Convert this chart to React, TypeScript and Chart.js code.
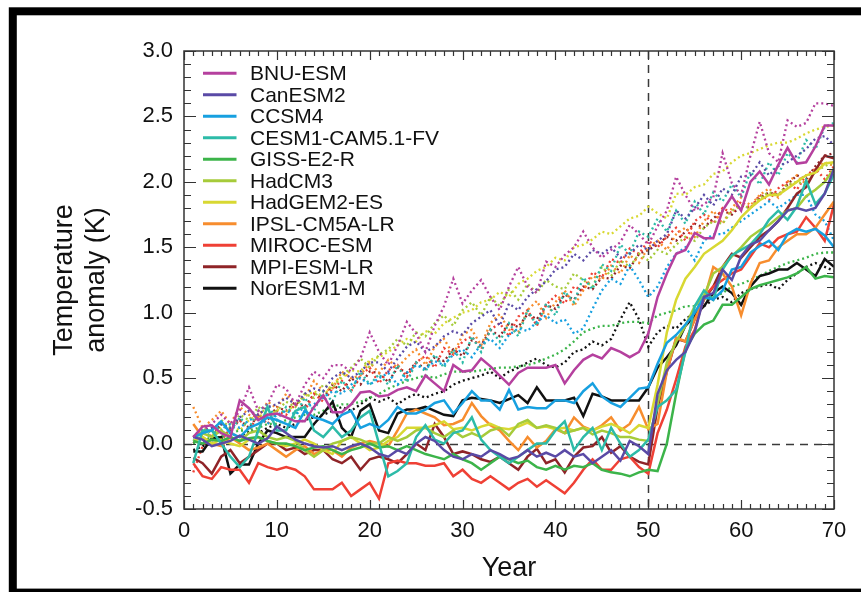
import React, { useEffect, useRef } from "react";
import { Chart, registerables } from "chart.js";

Chart.register(...registerables);

// ---------- data ----------
const YEARS = Array.from({ length: 70 }, (_, i) => i + 1);
const X_TICKS_STEP = 10;
const Y_TICKS_STEP = 0.5;
const DIVIDER_YEAR = 50;

const MODELS = [
  "BNU-ESM", "CanESM2", "CCSM4", "CESM1-CAM5.1-FV", "GISS-E2-R", "HadCM3",
  "HadGEM2-ES", "IPSL-CM5A-LR", "MIROC-ESM", "MPI-ESM-LR", "NorESM1-M",
];
const COLORS = [
  "#b5409e", "#5a4aa6", "#17a0e0", "#2dbba8", "#3cb44a", "#a6cb3a",
  "#d8d832", "#f78d2e", "#ef4035", "#8f2428", "#111111",
];

// solid lines
const BNU_SOLID = [0.05,0.13,0.14,0.08,0.05,0.33,0.27,0.18,0.22,0.23, 0.20,0.17,0.17,0.28,0.37,0.24,0.24,0.30,0.39,0.40, 0.36,0.37,0.41,0.43,0.40,0.52,0.46,0.40,0.60,0.55, 0.56,0.65,0.59,0.52,0.45,0.54,0.58,0.58,0.58,0.60, 0.46,0.56,0.64,0.68,0.65,0.73,0.70,0.66,0.70,0.84, 1.12,1.30,1.45,1.48,1.61,1.57,1.57,1.78,1.89,1.78, 2.00,2.08,1.98,2.13,2.26,2.14,2.15,2.27,2.43,2.43];
const CAN_SOLID = [0.05,0.03,-0.02,0.00,0.02,0.06,0.03,0.00,0.04,0.13, 0.08,0.03,0.00,-0.02,-0.03,-0.02,-0.05,-0.02,0.00,-0.03, -0.08,-0.10,-0.05,-0.08,0.00,0.05,0.02,-0.05,-0.10,-0.12, -0.08,-0.10,-0.05,-0.08,-0.12,-0.10,-0.05,-0.10,-0.07,-0.10, -0.05,-0.10,-0.08,-0.15,-0.10,-0.05,-0.13,0.02,-0.02,-0.08, 0.38,0.56,0.64,0.70,0.85,1.12,1.15,1.33,1.25,1.43, 1.52,1.55,1.63,1.70,1.78,1.80,1.78,1.80,1.91,2.10];
const CCSM_SOLID = [0.05,0.08,0.10,0.17,0.08,0.05,0.12,0.15,0.20,0.18, 0.15,0.12,0.25,0.20,0.18,0.15,0.22,0.25,0.12,0.15, 0.12,0.18,0.28,0.23,0.23,0.26,0.31,0.33,0.23,0.31, 0.40,0.33,0.33,0.26,0.41,0.26,0.28,0.27,0.27,0.33, 0.33,0.31,0.40,0.46,0.36,0.31,0.28,0.35,0.42,0.43, 0.61,0.77,0.83,0.91,1.00,1.12,1.10,1.17,1.33,1.35, 1.46,1.51,1.55,1.48,1.60,1.64,1.62,1.64,1.59,1.50];
const CESM_SOLID = [-0.15,0.10,0.10,0.00,-0.10,-0.18,-0.10,0.10,0.28,0.10, 0.10,0.25,0.28,0.10,0.05,0.13,0.05,0.10,0.20,0.25, 0.00,-0.25,-0.21,-0.15,0.05,0.14,0.03,0.00,0.08,0.10, 0.20,0.03,-0.05,-0.10,-0.15,-0.10,-0.05,0.00,0.00,0.10, 0.17,-0.05,0.05,0.12,-0.05,0.12,0.00,-0.10,-0.05,0.03, 0.28,0.33,0.41,0.70,1.05,1.17,1.10,1.33,1.44,1.48, 1.52,1.60,1.71,1.78,1.71,1.81,2.01,1.83,1.91,2.06];
const GISS_SOLID = [0.02,0.00,0.03,0.02,0.05,0.02,0.04,0.05,0.02,0.00, 0.00,-0.02,-0.05,-0.03,-0.02,-0.05,-0.08,-0.05,-0.03,0.00, -0.03,-0.02,-0.05,-0.02,-0.05,-0.08,-0.10,-0.12,-0.08,-0.12, -0.15,-0.20,-0.15,-0.10,-0.12,-0.15,-0.13,-0.18,-0.20,-0.17, -0.20,-0.17,-0.18,-0.15,-0.20,-0.22,-0.23,-0.25,-0.22,-0.20, -0.21,0.00,0.38,0.72,0.84,0.91,0.94,1.06,1.06,1.12, 1.18,1.21,1.23,1.25,1.27,1.30,1.35,1.26,1.28,1.27];
const HADCM3_SOLID = [0.05,0.08,0.05,0.10,0.05,0.02,0.08,0.10,0.05,0.03, 0.05,0.02,-0.05,-0.10,-0.05,0.00,0.02,0.05,0.03,0.00, 0.00,0.05,0.02,0.05,0.10,0.12,0.08,0.05,0.10,0.05, 0.08,0.05,0.10,0.12,0.06,0.15,0.18,0.12,0.14,0.12, 0.08,0.10,0.12,0.07,0.10,0.08,0.05,0.05,0.03,0.02, 0.30,0.62,0.78,0.90,1.05,1.13,1.30,1.35,1.43,1.50, 1.58,1.63,1.67,1.73,1.78,1.80,1.89,1.94,2.00,2.10];
const HADGEM_SOLID = [0.02,0.05,0.00,0.03,0.00,-0.02,0.03,0.05,0.02,0.00, -0.02,0.00,0.03,0.00,-0.05,-0.08,0.02,0.05,0.00,-0.05, -0.03,0.02,0.05,0.12,0.12,0.12,0.14,0.17,0.11,0.12, 0.10,0.13,0.15,0.12,0.11,0.13,0.16,0.12,0.13,0.11, 0.12,0.10,0.12,0.10,0.13,0.15,0.12,0.08,0.14,0.12, 0.45,0.85,1.10,1.26,1.35,1.45,1.50,1.55,1.63,1.73, 1.80,1.86,1.90,1.90,1.95,2.00,2.05,2.07,2.14,2.15];
const IPSL_SOLID = [0.15,0.05,0.00,-0.02,0.05,0.00,-0.05,-0.03,0.00,-0.05, -0.10,-0.05,-0.02,-0.08,-0.05,-0.05,-0.10,-0.03,0.00,0.02, 0.00,-0.02,0.10,0.23,0.26,0.23,0.20,0.14,0.15,0.18, 0.31,0.21,0.14,0.10,0.02,-0.05,0.05,-0.03,0.02,0.11, 0.08,0.20,0.13,0.10,0.14,0.20,0.10,0.15,0.28,0.11, 0.15,0.55,0.81,0.78,0.95,1.10,1.35,1.30,1.20,0.98, 1.22,1.38,1.40,1.50,1.55,1.60,1.60,1.65,1.75,1.85];
const MIROC_SOLID = [-0.15,-0.25,-0.27,-0.18,-0.20,-0.20,-0.30,-0.15,-0.18,-0.20, -0.18,-0.20,-0.25,-0.35,-0.35,-0.35,-0.30,-0.40,-0.35,-0.30, -0.42,-0.15,-0.13,-0.15,-0.15,-0.17,-0.17,-0.15,-0.25,-0.20, -0.27,-0.30,-0.25,-0.30,-0.35,-0.30,-0.27,-0.33,-0.28,-0.33, -0.38,-0.30,-0.20,-0.12,-0.20,-0.20,-0.12,-0.10,-0.18,-0.23, 0.08,0.26,0.49,0.74,0.87,1.12,1.20,1.25,1.30,1.33, 1.43,1.53,1.50,1.57,1.60,1.62,1.73,1.65,1.55,1.83];
const MPI_SOLID = [-0.11,-0.15,-0.23,-0.10,-0.05,-0.15,-0.10,-0.05,0.00,0.00, -0.05,-0.03,-0.08,-0.05,-0.05,-0.12,-0.15,-0.10,-0.20,-0.12, -0.10,-0.12,-0.15,-0.08,0.00,-0.05,0.15,0.05,-0.08,-0.06, -0.08,-0.12,-0.14,-0.10,-0.15,-0.20,-0.10,-0.04,-0.15,-0.12, -0.22,-0.10,-0.03,-0.02,0.05,-0.07,-0.02,-0.10,-0.14,-0.16, 0.28,0.55,0.80,0.78,0.95,1.10,1.20,1.35,1.45,1.42, 1.50,1.58,1.63,1.70,1.80,1.91,1.96,2.09,2.20,2.18];
const NOR_SOLID = [-0.06,-0.06,0.04,0.05,-0.23,-0.16,-0.16,0.00,0.10,0.08, 0.05,0.05,0.05,0.15,0.23,0.32,0.12,0.05,0.25,0.30, 0.10,0.08,0.23,0.26,0.26,0.28,0.25,0.22,0.21,0.33, 0.35,0.34,0.33,0.31,0.34,0.37,0.31,0.43,0.33,0.33, 0.33,0.35,0.21,0.38,0.36,0.33,0.33,0.33,0.33,0.43, 0.58,0.66,0.75,0.90,0.98,1.05,1.15,1.20,1.15,1.06, 1.20,1.28,1.30,1.33,1.33,1.38,1.33,1.28,1.41,1.35];

// dotted lines
const BNU_DOTTED = [0.05,0.10,0.15,0.22,0.15,0.25,0.43,0.25,0.30,0.45, 0.42,0.30,0.45,0.55,0.50,0.60,0.60,0.55,0.65,0.85, 0.70,0.60,0.75,0.93,0.84,0.70,0.90,1.05,1.26,1.07, 1.17,1.25,1.12,1.02,1.20,1.35,1.20,1.15,1.39,1.35, 1.44,1.50,1.62,1.50,1.42,1.48,1.54,1.67,1.60,1.52, 1.66,1.78,2.04,1.90,1.78,1.83,1.88,2.22,1.99,1.90, 2.20,2.46,2.22,2.15,2.47,2.42,2.45,2.60,2.60,2.58];
const CAN_DOTTED = [0.05,0.10,0.12,0.15,0.12,0.20,0.25,0.22,0.28,0.30, 0.35,0.30,0.38,0.42,0.40,0.50,0.55,0.50,0.55,0.62, 0.62,0.55,0.65,0.74,0.78,0.70,0.74,0.82,0.86,0.83, 0.92,0.97,1.02,0.90,1.07,1.02,1.12,1.18,1.24,1.33, 1.35,1.45,1.40,1.48,1.45,1.50,1.42,1.45,1.52,1.48, 1.55,1.60,1.78,1.72,1.80,1.90,1.82,1.95,1.90,2.04, 2.05,2.15,2.05,2.12,2.15,2.20,2.25,2.33,2.35,2.28];
const CCSM_DOTTED = [0.05,0.08,0.12,0.10,0.15,0.12,0.18,0.20,0.15,0.22, 0.25,0.22,0.28,0.30,0.35,0.40,0.38,0.45,0.50,0.45, 0.50,0.54,0.45,0.54,0.60,0.57,0.63,0.60,0.68,0.72, 0.66,0.76,0.80,0.73,0.83,0.88,0.86,0.93,0.98,0.92, 0.95,0.84,0.88,1.03,1.17,1.26,1.22,1.36,1.25,1.12, 1.20,1.35,1.45,1.50,1.40,1.55,1.60,1.60,1.65,1.70, 1.75,1.80,1.85,1.80,1.85,1.90,1.90,1.75,1.70,1.55];
const CESM_DOTTED = [0.02,0.10,0.05,0.15,0.08,0.20,0.12,0.25,0.30,0.18, 0.28,0.22,0.35,0.25,0.40,0.32,0.48,0.40,0.55,0.45, 0.53,0.45,0.60,0.47,0.62,0.55,0.68,0.58,0.72,0.62, 0.82,0.70,0.87,0.78,0.92,0.82,1.02,0.90,1.07,0.98, 1.16,1.08,1.27,1.18,1.37,1.32,1.52,1.45,1.62,1.58, 1.72,1.62,1.78,1.68,1.85,1.75,1.92,1.85,1.98,1.88, 2.08,1.98,2.15,2.05,2.22,2.15,2.32,2.25,2.42,2.45];
const GISS_DOTTED = [0.00,0.02,0.05,0.05,0.08,0.10,0.10,0.12,0.15,0.15, 0.18,0.20,0.22,0.22,0.25,0.28,0.30,0.30,0.32,0.35, 0.38,0.42,0.45,0.48,0.50,0.52,0.50,0.53,0.55,0.55, 0.55,0.56,0.57,0.58,0.58,0.59,0.60,0.62,0.65,0.68, 0.72,0.78,0.85,0.88,0.90,0.90,0.92,0.93,0.93,0.92, 0.98,1.00,1.02,1.05,1.05,1.08,1.12,1.15,1.20,1.22, 1.25,1.28,1.32,1.35,1.38,1.40,1.42,1.45,1.46,1.46];
const HADCM3_DOTTED = [0.05,0.12,0.08,0.18,0.12,0.22,0.18,0.28,0.22,0.25, 0.32,0.28,0.38,0.35,0.45,0.42,0.52,0.58,0.65,0.58, 0.68,0.72,0.80,0.75,0.85,0.82,0.92,0.98,0.90,1.02, 1.08,0.98,1.12,1.05,1.18,1.10,1.22,1.15,1.25,1.20, 1.18,1.30,1.25,1.20,1.35,1.28,1.40,1.35,1.45,1.40, 1.48,1.45,1.52,1.58,1.55,1.65,1.70,1.68,1.78,1.82, 1.80,1.88,1.92,1.90,1.98,2.00,1.98,2.08,2.12,2.15];
const HADGEM_DOTTED = [0.05,0.08,0.06,0.12,0.15,0.10,0.18,0.22,0.20,0.26, 0.24,0.30,0.36,0.40,0.36,0.46,0.50,0.56,0.55,0.64, 0.66,0.70,0.75,0.80,0.78,0.86,0.84,0.92,0.96,1.00, 1.02,1.08,1.10,1.16,1.12,1.22,1.26,1.32,1.35,1.42, 1.40,1.50,1.52,1.56,1.62,1.60,1.66,1.72,1.74,1.81, 1.76,1.72,1.91,1.90,1.96,1.98,2.06,2.08,2.15,2.20, 2.22,2.25,2.28,2.30,2.30,2.33,2.37,2.40,2.42,2.43];
const IPSL_DOTTED = [0.28,0.12,0.18,0.25,0.15,0.28,0.22,0.20,0.32,0.27, 0.38,0.30,0.35,0.48,0.40,0.42,0.55,0.50,0.52,0.62, 0.54,0.64,0.58,0.66,0.72,0.60,0.74,0.80,0.68,0.83, 0.87,0.75,0.92,0.99,0.87,0.85,1.02,1.09,0.96,1.08, 1.17,1.05,1.17,1.28,1.25,1.36,1.30,1.44,1.38,1.50, 1.55,1.48,1.60,1.65,1.58,1.70,1.78,1.68,1.80,1.88, 1.82,1.90,1.95,1.88,2.00,2.05,1.98,2.10,2.15,2.12];
const MIROC_DOTTED = [-0.22,-0.02,0.08,0.02,0.12,0.18,0.10,0.22,0.15,0.25, 0.22,0.30,0.25,0.38,0.32,0.42,0.48,0.40,0.52,0.58, 0.46,0.56,0.60,0.51,0.62,0.67,0.58,0.73,0.68,0.78, 0.82,0.72,0.87,0.92,0.82,0.97,1.02,0.90,1.06,1.13, 1.07,1.20,1.17,1.31,1.27,1.41,1.38,1.49,1.45,1.55, 1.50,1.58,1.65,1.55,1.70,1.75,1.68,1.80,1.76,1.85, 1.80,1.90,1.86,1.95,2.00,1.94,2.05,2.10,2.02,2.12];
const MPI_DOTTED = [0.00,0.08,0.05,0.15,0.10,0.18,0.12,0.22,0.18,0.28, 0.25,0.32,0.28,0.38,0.35,0.45,0.40,0.50,0.45,0.55, 0.54,0.47,0.58,0.54,0.62,0.57,0.66,0.63,0.72,0.67, 0.79,0.75,0.87,0.82,0.92,0.89,0.99,0.95,1.06,1.03, 1.14,1.10,1.20,1.18,1.27,1.26,1.36,1.34,1.45,1.48, 1.52,1.58,1.55,1.62,1.68,1.65,1.72,1.78,1.75,1.82, 1.80,1.88,1.92,1.90,1.98,2.05,2.02,2.12,2.20,2.22];
const NOR_DOTTED = [-0.05,-0.02,0.00,0.05,0.08,0.05,0.10,0.08,0.12,0.15, 0.12,0.15,0.18,0.20,0.22,0.25,0.28,0.25,0.30,0.35, 0.32,0.35,0.30,0.35,0.38,0.35,0.38,0.40,0.45,0.48, 0.50,0.52,0.55,0.50,0.55,0.58,0.62,0.65,0.60,0.58, 0.62,0.70,0.72,0.78,0.75,0.80,0.95,1.08,0.95,0.74, 0.85,0.90,0.88,0.95,1.00,1.05,1.10,1.12,1.08,1.15, 1.18,1.20,1.22,1.18,1.25,1.30,1.35,1.38,1.35,1.32];

const SOLID = [BNU_SOLID, CAN_SOLID, CCSM_SOLID, CESM_SOLID, GISS_SOLID, HADCM3_SOLID, HADGEM_SOLID, IPSL_SOLID, MIROC_SOLID, MPI_SOLID, NOR_SOLID];
const DOTTED = [BNU_DOTTED, CAN_DOTTED, CCSM_DOTTED, CESM_DOTTED, GISS_DOTTED, HADCM3_DOTTED, HADGEM_DOTTED, IPSL_DOTTED, MIROC_DOTTED, MPI_DOTTED, NOR_DOTTED];

const FONT = "'Liberation Sans', Arial, Helvetica, sans-serif";
const TEXT = "#111111";

const toPoints = (vals: number[]) => vals.map((v, i) => ({ x: YEARS[i], y: v }));

const framePlugin = {
  id: "paperFrame",
  beforeDatasetsDraw(chart: any) {
    const { ctx, chartArea: a, scales } = chart;
    const xs = scales.x, ys = scales.y;
    ctx.save();
    ctx.strokeStyle = "#3a3a3a";
    ctx.lineWidth = 1.5;
    ctx.setLineDash([8, 6]);
    const xd = Math.round(xs.getPixelForValue(DIVIDER_YEAR)) + 0.5;
    ctx.beginPath(); ctx.moveTo(xd, a.top); ctx.lineTo(xd, a.bottom); ctx.stroke();
    const y0 = Math.round(ys.getPixelForValue(0)) + 0.5;
    ctx.beginPath(); ctx.moveTo(a.left, y0); ctx.lineTo(a.right, y0); ctx.stroke();
    ctx.restore();
  },
  afterDraw(chart: any) {
    const { ctx, chartArea: a, scales, width, height } = chart;
    const xs = scales.x, ys = scales.y;
    ctx.save();
    // axis box
    ctx.strokeStyle = "#333";
    ctx.lineWidth = 1.5;
    ctx.strokeRect(a.left, a.top, a.right - a.left, a.bottom - a.top);
    // ticks
    ctx.lineWidth = 1.2;
    ctx.beginPath();
    for (let v = 0; v <= 70; v++) {
      const px = Math.round(xs.getPixelForValue(v)) + 0.5;
      const len = v % 10 === 0 ? 9 : 5;
      ctx.moveTo(px, a.bottom); ctx.lineTo(px, a.bottom - len);
      ctx.moveTo(px, a.top); ctx.lineTo(px, a.top + len);
    }
    for (let i = -5; i <= 30; i++) {
      const py = Math.round(ys.getPixelForValue(i / 10)) + 0.5;
      const len = i % 5 === 0 ? 12 : 7;
      ctx.moveTo(a.left, py); ctx.lineTo(a.left + len, py);
      ctx.moveTo(a.right, py); ctx.lineTo(a.right - len, py);
    }
    ctx.stroke();
    // legend
    ctx.font = `21px ${FONT}`;
    ctx.textBaseline = "middle";
    ctx.textAlign = "left";
    MODELS.forEach((name, i) => {
      const y = a.top + 22.3 + i * 21.5;
      ctx.strokeStyle = COLORS[i];
      ctx.lineWidth = 3;
      ctx.beginPath(); ctx.moveTo(a.left + 19, y); ctx.lineTo(a.left + 52.5, y); ctx.stroke();
      ctx.fillStyle = TEXT;
      ctx.fillText(name, a.left + 66, y + 1);
    });
    // outer frame
    ctx.strokeStyle = "#000";
    ctx.lineWidth = 8;
    ctx.strokeRect(12.8, 11.3, width + 20, height - 11.3 + 0.6);
    ctx.restore();
  },
};

export default function App() {
  const ref = useRef<HTMLCanvasElement | null>(null);
  useEffect(() => {
    if (!ref.current) return;
    const datasets: any[] = [];
    MODELS.forEach((name, i) => {
      datasets.push({
        label: name,
        data: toPoints(SOLID[i]),
        borderColor: COLORS[i],
        borderWidth: 2.5,
        pointRadius: 0,
        fill: false,
      });
    });
    MODELS.forEach((name, i) => {
      datasets.push({
        label: name + " (dotted)",
        data: toPoints(DOTTED[i]),
        borderColor: COLORS[i],
        borderWidth: 2.3,
        borderDash: [2, 3],
        pointRadius: 0,
        fill: false,
      });
    });
    const chart = new Chart(ref.current, {
      type: "line",
      data: { datasets },
      plugins: [framePlugin],
      options: {
        responsive: false,
        animation: false,
        layout: { padding: { left: 0, top: 51, right: 27, bottom: 0 } },
        plugins: { legend: { display: false }, tooltip: { enabled: false } },
        elements: { line: { tension: 0 } },
        scales: {
          x: {
            type: "linear",
            min: 0,
            max: 70,
            grid: { display: false, drawTicks: false },
            border: { display: false },
            ticks: { stepSize: X_TICKS_STEP, padding: 9, color: TEXT, font: { family: FONT, size: 22 }, maxRotation: 0, autoSkip: false },
            title: { display: true, text: "Year", color: TEXT, font: { family: FONT, size: 27 }, padding: { top: 0, bottom: 7 } },
            afterFit(s: any) { s.height = 83; },
          },
          y: {
            type: "linear",
            min: -0.5,
            max: 3.0,
            grid: { display: false, drawTicks: false },
            border: { display: false },
            ticks: { stepSize: Y_TICKS_STEP, padding: 11, color: TEXT, font: { family: FONT, size: 22 }, callback: (v: any) => Number(v).toFixed(1) },
            title: { display: true, text: ["Temperature", "anomaly (K)"], color: TEXT, font: { family: FONT, size: 27 }, padding: { top: 48, bottom: 0 } },
            afterFit(s: any) { s.width = 184; },
          },
        },
      },
    });
    return () => chart.destroy();
  }, []);
  return (
    <div style={{ position: "absolute", left: 0, top: 0, width: 861, height: 592, background: "#fff" }}>
      <canvas ref={ref} width={861} height={592} style={{ display: "block", width: 861, height: 592 }} />
    </div>
  );
}
